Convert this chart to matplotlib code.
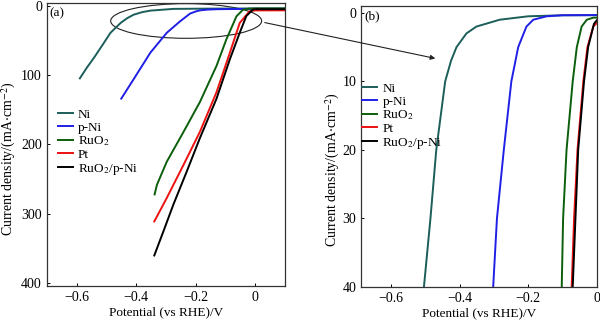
import numpy as np
import matplotlib.pyplot as plt
from matplotlib.patches import Ellipse, FancyArrowPatch

plt.rcParams['font.family'] = ['Liberation Serif', 'DejaVu Serif']
plt.rcParams['mathtext.fontset'] = 'stix'
plt.rcParams['font.size'] = 10

labels = ['Ni', 'p-Ni', 'RuO$_2$', 'Pt', 'RuO$_2$/p-Ni']
colors = ['#1b5e5a', '#1f1fe6', '#0b5e0b', '#ee1111', '#000000']

# full-range polarization curves (a): potential / V, current density / mA cm^-2
ni_a_v = [-0.589, -0.565, -0.541, -0.512, -0.486, -0.452, -0.430, -0.408, -0.380, -0.352, -0.275, -0.15, 0.0, 0.1]
ni_a_j = [104.7, 89.0, 74.7, 56.0, 39.0, 24.8, 18.0, 12.9, 9.3, 7.1, 4.6, 4.2, 4.0, 4.0]
pni_a_v = [-0.450, -0.408, -0.352, -0.297, -0.252, -0.219, -0.200, -0.185, -0.160, -0.125, 0.0, 0.1]
pni_a_j = [134.0, 105.7, 67.6, 39.0, 22.4, 11.4, 8.3, 6.7, 5.6, 5.0, 4.5, 4.5]
ruo2_a_v = [-0.338, -0.330, -0.297, -0.241, -0.186, -0.130, -0.097, -0.063, -0.041, -0.02, 0.0, 0.1]
ruo2_a_j = [272.0, 258.0, 224.8, 182.0, 139.0, 86.7, 48.6, 15.3, 5.7, 4.2, 4.0, 4.0]
pt_a_v = [-0.339, -0.297, -0.241, -0.186, -0.130, -0.085, -0.052, -0.019, 0.0, 0.1]
pt_a_j = [311.0, 277.0, 229.5, 182.0, 124.7, 67.6, 24.8, 8.0, 6.8, 6.7]
mix_a_v = [-0.339, -0.308, -0.275, -0.230, -0.186, -0.130, -0.085, -0.052, -0.030, -0.008, 0.0, 0.1]
mix_a_j = [360.0, 324.8, 286.7, 239.0, 191.0, 134.0, 77.0, 39.0, 15.0, 5.5, 5.0, 5.0]

# low-current region (b)
ni_b_v = [-0.504, -0.485, -0.468, -0.442, -0.425, -0.409, -0.380, -0.351, -0.283, -0.2, -0.1, 0.0]
ni_b_j = [40.0, 30.0, 20.0, 10.0, 7.0, 5.0, 3.0, 2.0, 1.0, 0.5, 0.35, 0.33]
pni_b_v = [-0.302, -0.291, -0.271, -0.249, -0.229, -0.205, -0.185, -0.146, -0.1, 0.0]
pni_b_j = [40.0, 30.0, 20.0, 10.0, 5.0, 2.0, 1.0, 0.5, 0.35, 0.33]
ruo2_b_v = [-0.102, -0.098, -0.088, -0.070, -0.058, -0.044, -0.029, -0.010, 0.0]
ruo2_b_j = [40.0, 30.0, 20.0, 10.0, 5.0, 2.0, 1.0, 0.7, 0.7]
pt_b_v = [-0.073, -0.066, -0.056, -0.039, -0.027, -0.010, 0.0]
pt_b_j = [40.0, 30.0, 20.0, 10.0, 5.0, 2.0, 1.5]
mix_b_v = [-0.070, -0.062, -0.054, -0.037, -0.025, -0.008, 0.0]
mix_b_j = [40.0, 30.0, 20.0, 10.0, 5.0, 1.6, 1.1]

curves_a = [(ni_a_v, ni_a_j), (pni_a_v, pni_a_j), (ruo2_a_v, ruo2_a_j),
            (pt_a_v, pt_a_j), (mix_a_v, mix_a_j)]
curves_b = [(ni_b_v, ni_b_j), (pni_b_v, pni_b_j), (ruo2_b_v, ruo2_b_j),
            (pt_b_v, pt_b_j), (mix_b_v, mix_b_j)]


def style_axes(ax, label_xy):
    for s in ax.spines.values():
        s.set_linewidth(0.9)
        s.set_color('#333333')
    ax.tick_params(direction='in', length=2.5, width=0.7, labelsize=10, pad=3.5)
    ax.set_xticks([-0.6, -0.4, -0.2, 0])
    ax.set_xticklabels(['\u22120.6', '\u22120.4', '\u22120.2', '0'])
    ax.set_xlabel('Potential (vs RHE)/V', fontsize=9.5, labelpad=2)
    ax.set_ylabel('Current density/(mA$\\cdot$cm$^{-2}$)', fontsize=10)
    ax.yaxis.set_label_coords(*label_xy)


def add_legend(ax, anchor):
    ax.legend(loc='upper left', bbox_to_anchor=anchor, frameon=False, fontsize=9.5,
              handlelength=1.15, handletextpad=0.38, labelspacing=0.05,
              borderaxespad=0, borderpad=0)


fig = plt.figure(figsize=(6, 3.25), dpi=100)
ax1 = fig.add_axes([0.078, 0.12, 0.397, 0.871])
ax2 = fig.add_axes([0.602, 0.117, 0.3925, 0.8645])

for (v, j), lab, c in zip(curves_a, labels, colors):
    ax1.plot(v, j, color=c, lw=1.4, label=lab)
ax1.set_xlim(-0.7, 0.1)
ax1.set_ylim(404, -4)
ax1.set_yticks([0, 100, 200, 300, 400])
style_axes(ax1, (-0.122, 0.45))
ax1.text(0.012, 0.985, '(a)', transform=ax1.transAxes, ha='left', va='top', fontsize=9.5)
add_legend(ax1, (0.046, 0.627))
ax1.add_patch(Ellipse((-0.232, 22), 0.507, 50, fill=False, ec='#222222', lw=0.8, clip_on=False))

for (v, j), lab, c in zip(curves_b, labels, colors):
    ax2.plot(v, j, color=c, lw=1.4, label=lab)
ax2.set_xlim(-0.687, 0)
ax2.set_ylim(40, -1)
ax2.set_yticks([0, 10, 20, 30, 40])
style_axes(ax2, (-0.082, 0.416))
ax2.text(0.012, 0.985, '(b)', transform=ax2.transAxes, ha='left', va='top', fontsize=9.5)
add_legend(ax2, (0.004, 0.728))

# arrow from the circled plateau to the zoomed panel
fig.patches.append(FancyArrowPatch(
    (262 / 600, 1 - 22 / 325), (438 / 600, 1 - 59 / 325), transform=fig.transFigure,
    arrowstyle='-|>', mutation_scale=7, lw=0.8, color='#222222'))

fig.savefig('out.png', dpi=100)
